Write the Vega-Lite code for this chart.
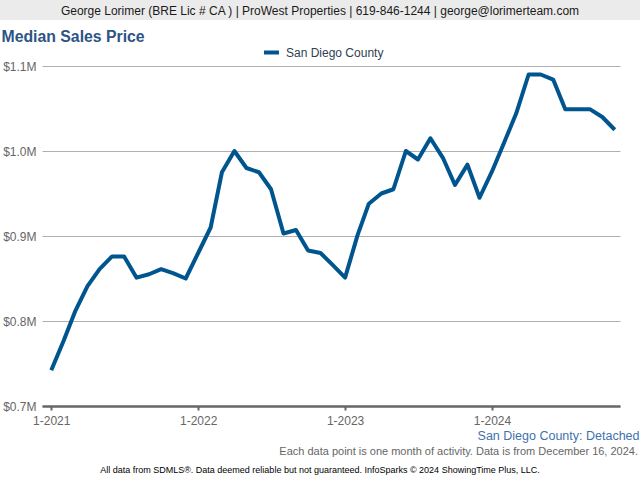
{
  "$schema": "https://vega.github.io/schema/vega-lite/v6.json",
  "padding": 0,
  "spacing": 0,
  "config": {"view": {"stroke": null}, "font": "Liberation Sans"},
  "vconcat": [
    {
      "width": 640,
      "height": 20,
      "view": {"fill": "#ebebeb", "stroke": null},
      "data": {"values": [{"t": "George Lorimer (BRE Lic # CA ) | ProWest Properties | 619-846-1244 | george@lorimerteam.com"}]},
      "mark": {"type": "text", "fontSize": 12, "font": "Liberation Sans", "color": "#1a1a1a", "baseline": "middle", "dy": 1},
      "encoding": {"text": {"field": "t"}}
    },
    {
      "width": 640,
      "height": 386,
      "data": {"values": [
        {"date": "2021-01-01", "price": 742000, "series": "San Diego County"},
        {"date": "2021-02-01", "price": 777000, "series": "San Diego County"},
        {"date": "2021-03-01", "price": 811000, "series": "San Diego County"},
        {"date": "2021-04-01", "price": 841000, "series": "San Diego County"},
        {"date": "2021-05-01", "price": 861000, "series": "San Diego County"},
        {"date": "2021-06-01", "price": 876000, "series": "San Diego County"},
        {"date": "2021-07-01", "price": 876000, "series": "San Diego County"},
        {"date": "2021-08-01", "price": 851000, "series": "San Diego County"},
        {"date": "2021-09-01", "price": 855000, "series": "San Diego County"},
        {"date": "2021-10-01", "price": 861000, "series": "San Diego County"},
        {"date": "2021-11-01", "price": 856000, "series": "San Diego County"},
        {"date": "2021-12-01", "price": 850000, "series": "San Diego County"},
        {"date": "2022-01-01", "price": 880000, "series": "San Diego County"},
        {"date": "2022-02-01", "price": 910000, "series": "San Diego County"},
        {"date": "2022-03-01", "price": 975000, "series": "San Diego County"},
        {"date": "2022-04-01", "price": 1000000, "series": "San Diego County"},
        {"date": "2022-05-01", "price": 980000, "series": "San Diego County"},
        {"date": "2022-06-01", "price": 975000, "series": "San Diego County"},
        {"date": "2022-07-01", "price": 955000, "series": "San Diego County"},
        {"date": "2022-08-01", "price": 903000, "series": "San Diego County"},
        {"date": "2022-09-01", "price": 907000, "series": "San Diego County"},
        {"date": "2022-10-01", "price": 883000, "series": "San Diego County"},
        {"date": "2022-11-01", "price": 880000, "series": "San Diego County"},
        {"date": "2022-12-01", "price": 866000, "series": "San Diego County"},
        {"date": "2023-01-01", "price": 851000, "series": "San Diego County"},
        {"date": "2023-02-01", "price": 901000, "series": "San Diego County"},
        {"date": "2023-03-01", "price": 938000, "series": "San Diego County"},
        {"date": "2023-04-01", "price": 950000, "series": "San Diego County"},
        {"date": "2023-05-01", "price": 955000, "series": "San Diego County"},
        {"date": "2023-06-01", "price": 1000000, "series": "San Diego County"},
        {"date": "2023-07-01", "price": 990000, "series": "San Diego County"},
        {"date": "2023-08-01", "price": 1015000, "series": "San Diego County"},
        {"date": "2023-09-01", "price": 992000, "series": "San Diego County"},
        {"date": "2023-10-01", "price": 960000, "series": "San Diego County"},
        {"date": "2023-11-01", "price": 984000, "series": "San Diego County"},
        {"date": "2023-12-01", "price": 945000, "series": "San Diego County"},
        {"date": "2024-01-01", "price": 976000, "series": "San Diego County"},
        {"date": "2024-02-01", "price": 1011000, "series": "San Diego County"},
        {"date": "2024-03-01", "price": 1044000, "series": "San Diego County"},
        {"date": "2024-04-01", "price": 1090000, "series": "San Diego County"},
        {"date": "2024-05-01", "price": 1090000, "series": "San Diego County"},
        {"date": "2024-06-01", "price": 1084000, "series": "San Diego County"},
        {"date": "2024-07-01", "price": 1049000, "series": "San Diego County"},
        {"date": "2024-08-01", "price": 1049000, "series": "San Diego County"},
        {"date": "2024-09-01", "price": 1049000, "series": "San Diego County"},
        {"date": "2024-10-01", "price": 1040000, "series": "San Diego County"},
        {"date": "2024-11-01", "price": 1025000, "series": "San Diego County"}
      ]},
      "mark": {"type": "line", "strokeWidth": 4, "strokeJoin": "round", "strokeCap": "butt"},
      "encoding": {
        "x": {
          "field": "date",
          "type": "temporal",
          "scale": {
            "type": "utc",
            "domain": [
              {"year": 2020, "month": 12, "date": 9, "utc": true},
              {"year": 2024, "month": 11, "date": 14, "utc": true}
            ],
            "range": [42, 620]
          },
          "axis": {
            "values": [
              {"year": 2021, "month": 1, "date": 1, "utc": true},
              {"year": 2022, "month": 1, "date": 1, "utc": true},
              {"year": 2023, "month": 1, "date": 1, "utc": true},
              {"year": 2024, "month": 1, "date": 1, "utc": true}
            ],
            "labelExpr": "utcFormat(datum.value, '%-m-%Y')",
            "grid": false,
            "domainColor": "#666666",
            "domainWidth": 2.5,
            "tickColor": "#666666",
            "tickWidth": 2,
            "tickSize": 4,
            "labelColor": "#666666",
            "labelFontSize": 12,
            "labelFont": "Liberation Sans",
            "labelPadding": 5,
            "labelOverlap": false,
            "labelFlush": false,
            "title": "San Diego County: Detached",
            "titleX": 639,
            "titleY": 33,
            "titleAlign": "right",
            "titleBaseline": "alphabetic",
            "titleColor": "#3f72ad",
            "titleFontSize": 12.5,
            "titleFontWeight": "normal",
            "titleFont": "Liberation Sans"
          }
        },
        "y": {
          "field": "price",
          "type": "quantitative",
          "scale": {"domain": [700000, 1154118], "nice": false, "zero": false},
          "axis": {
            "values": [700000, 800000, 900000, 1000000, 1100000],
            "labelExpr": "'$' + format(datum.value / 1000000, '.1f') + 'M'",
            "domain": false,
            "ticks": false,
            "tickSize": 0,
            "labelPadding": -36,
            "labelColor": "#666666",
            "labelFontSize": 12,
            "labelFont": "Liberation Sans",
            "grid": true,
            "gridColor": "#b0b0b0",
            "gridWidth": 1,
            "title": "Median Sales Price",
            "titleX": 1,
            "titleY": 21,
            "titleAngle": 0,
            "titleAlign": "left",
            "titleBaseline": "alphabetic",
            "titleFontSize": 15.8,
            "titleFontWeight": "bold",
            "titleColor": "#2d5483",
            "titleFont": "Liberation Sans"
          }
        },
        "color": {
          "field": "series",
          "type": "nominal",
          "scale": {"range": ["#00558f"]},
          "legend": {
            "orient": "none",
            "legendX": 262,
            "legendY": 43,
            "title": null,
            "padding": 0,
            "symbolType": "stroke",
            "symbolStrokeWidth": 4,
            "symbolSize": 225,
            "labelFontSize": 12,
            "labelColor": "#2f3e55",
            "labelFont": "Liberation Sans",
            "labelOffset": 5
          }
        }
      }
    },
    {
      "width": 640,
      "height": 20,
      "data": {"values": [{"t": "Each data point is one month of activity. Data is from December 16, 2024."}]},
      "mark": {"type": "text", "align": "right", "baseline": "middle", "fontSize": 11, "color": "#666666", "dx": -2},
      "encoding": {"text": {"field": "t"}, "x": {"value": "width"}}
    },
    {
      "width": 640,
      "height": 16,
      "data": {"values": [{"t": "All data from SDMLS®. Data deemed reliable but not guaranteed. InfoSparks © 2024 ShowingTime Plus, LLC."}]},
      "mark": {"type": "text", "baseline": "middle", "fontSize": 9, "color": "#000000"},
      "encoding": {"text": {"field": "t"}}
    }
  ]
}
